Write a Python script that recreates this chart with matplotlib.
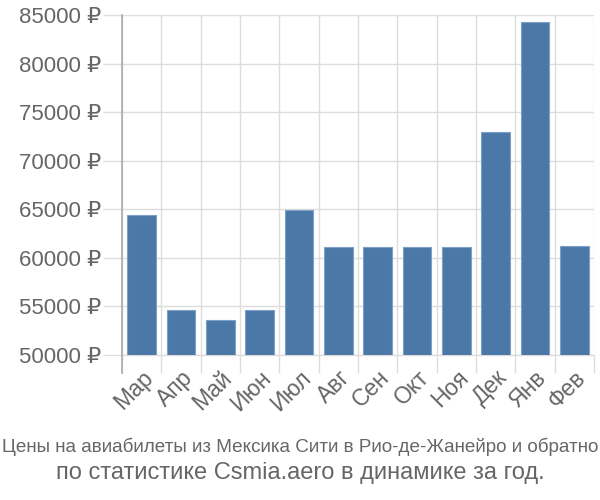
import matplotlib
matplotlib.use("Agg")
import matplotlib.pyplot as plt
from matplotlib.lines import Line2D
import numpy as np

months = ["Мар", "Апр", "Май", "Июн", "Июл", "Авг", "Сен", "Окт", "Ноя", "Дек", "Янв", "Фев"]
prices = [64400, 54600, 53600, 54600, 64900, 61100, 61100, 61100, 61100, 73000, 84300, 61200]
yticks = [50000, 55000, 60000, 65000, 70000, 75000, 80000, 85000]
ytick_labels = [f"{v} ₽" for v in yticks]
title1 = "Цены на авиабилеты из Мексика Сити в Рио-де-Жанейро и обратно"
title2 = "по статистике Csmia.aero в динамике за год."

fam = ["Liberation Sans", "DejaVu Sans"]
plt.rcParams["font.family"] = fam

fig = plt.figure(figsize=(6, 5), dpi=100)
ax = fig.add_axes([122/600, 1-355/500, 472/600, 340/500])

x = np.arange(len(months))
ax.bar(x, prices, width=0.73, color="#4c78a8", edgecolor="#7e9fc6", linewidth=0.8, zorder=3)

ax.set_xlim(-0.5, len(months)-0.5)
ax.set_ylim(50000, 85000)
ax.set_yticks(yticks)
ax.set_yticklabels(ytick_labels)
ax.set_xticks(x)
ax.set_xticklabels(months, rotation=45, ha="right", va="top", rotation_mode="anchor")
ax.set_xticks(np.arange(-0.5, len(months)), minor=True)

ax.tick_params(axis="y", length=14, color="#dddddd", width=1, labelsize=16, labelcolor="#666666", pad=1)
ax.tick_params(axis="x", which="major", length=0, labelsize=16.5, labelcolor="#666666", pad=8)
ax.tick_params(axis="x", which="minor", length=13, color="#dddddd", width=1)

ax.grid(axis="y", color="#dddddd", linewidth=1, zorder=0)
ax.grid(axis="x", which="minor", color="#dddddd", linewidth=1, zorder=0)

for s in ["top", "right", "bottom", "left"]:
    ax.spines[s].set_visible(False)
ax.add_line(Line2D([0, 0], [-0.053, 1], transform=ax.transAxes, color="#aaaaaa", linewidth=1.2, clip_on=False, zorder=4))
ax.add_line(Line2D([0, 1], [0, 0], transform=ax.transAxes, color="#dddddd", linewidth=1, clip_on=False, zorder=1))

fig.text(0.5, 1-447/500, title1, ha="center", va="center", fontsize=13.6, color="#666666", family=fam)
fig.text(0.5, 1-473/500, title2, ha="center", va="center", fontsize=17, color="#666666", family=fam)

fig.savefig("out.png", dpi=100)
